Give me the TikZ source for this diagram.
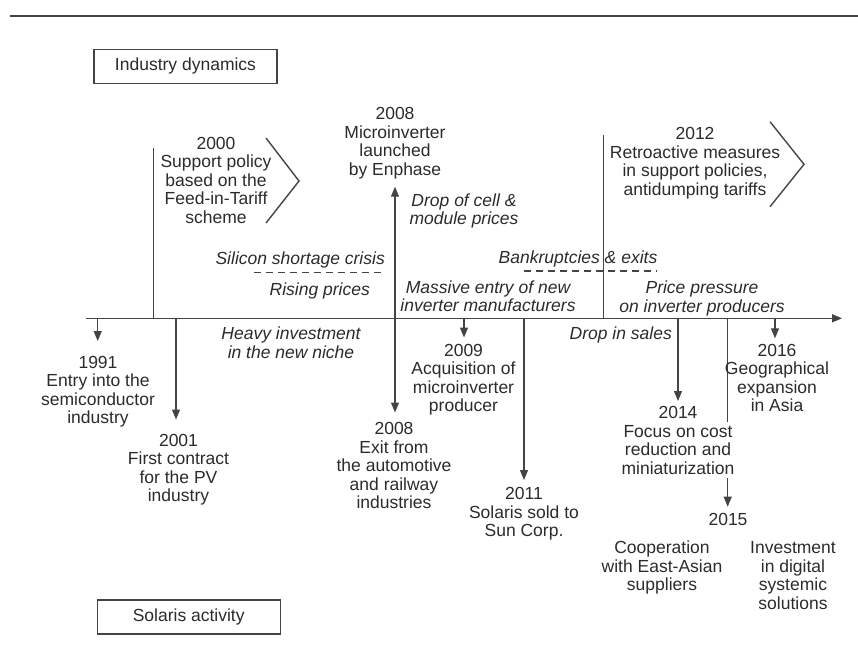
\documentclass[tikz,border=0pt]{standalone}
\usepackage{fontspec}
\setmainfont{Liberation Sans}
\usetikzlibrary{arrows.meta}
\definecolor{txt}{HTML}{2B2B2B}
\definecolor{ln}{HTML}{444444}
\begin{document}
\begin{tikzpicture}[x=1pt,y=-1pt,
  every node/.style={font=\fontsize{17.5}{18.6}\selectfont, text=txt, inner sep=0pt},
  lbl/.style={align=center, anchor=base},
  itl/.style={align=center, anchor=base, font=\fontsize{17.5}{18.6}\selectfont\itshape},
  vline/.style={draw=ln, line width=1.2pt},
  arr/.style={vline, -{Triangle[width=8pt,length=10pt]}},
  boxlbl/.style={draw=ln, line width=1.2pt, minimum width=183pt, minimum height=34pt, anchor=center},
  dashline/.style={draw=ln, line width=1.2pt, dash pattern=on 7pt off 5pt}]
\useasboundingbox (0,0) rectangle (858,651);

% top rule
\coordinate (ruleL) at (10,15.5);
\coordinate (ruleR) at (858,15.5);
\draw[draw=ln, line width=2pt] (ruleL) -- (ruleR);

% boxes
\node[boxlbl] (ind) at (185.5,66.3) {Industry dynamics};
\node[boxlbl] (sol) at (188.7,617) {Solaris activity};

% axis
\coordinate (axL) at (86,318.3);
\coordinate (axR) at (842,318.3);
\draw[arr, line width=1.5pt] (axL) -- (axR);

% axis points
\coordinate (a91) at (97.7,318.3);
\coordinate (a00) at (153.3,318.3);
\coordinate (a01) at (176,318.3);
\coordinate (a08) at (395,318.3);
\coordinate (a09) at (464,318.3);
\coordinate (a11) at (524,318.3);
\coordinate (a12) at (603.3,318.3);
\coordinate (a14) at (678,318.3);
\coordinate (a15) at (727.7,318.3);
\coordinate (a16) at (775,318.3);

% tips
\coordinate (t91) at (97.7,341);
\coordinate (t00) at (153.3,147.7);
\coordinate (t01) at (176,419.5);
\coordinate (t08u) at (395,186.7);
\coordinate (t08d) at (395,412.5);
\coordinate (t09) at (464,337.5);
\coordinate (t11) at (524,480);
\coordinate (t12) at (603.3,135);
\coordinate (t14) at (678,401);
\coordinate (t15) at (727.7,506.7);
\coordinate (t16) at (775,338.3);

\draw[vline] (a00) -- (t00);
\draw[vline] (a12) -- (t12);
\draw[arr] (a91) -- (t91);
\draw[arr] (a01) -- (t01);
\draw[arr] (a08) -- (t08u);
\draw[arr] (a08) -- (t08d);
\draw[arr] (a09) -- (t09);
\draw[arr] (a11) -- (t11);
\draw[arr] (a14) -- (t14);
\draw[arr] (a15) -- (t15);
\draw[arr] (a16) -- (t16);

% chevrons
\draw[draw=ln, line width=1.4pt] (266,138) -- (299,181) -- (266,223);
\draw[draw=ln, line width=1.4pt] (770,121.7) -- (804,164.3) -- (770,206.7);

% dashed separators
\coordinate (d1L) at (254,272.7);
\coordinate (d1R) at (385,272.7);
\coordinate (d2L) at (524.3,271);
\coordinate (d2R) at (657,271);
\draw[dashline] (d1L) -- (d1R);
\draw[dashline] (d2L) -- (d2R);

% industry dynamics texts (anchor = baseline of last line)
\node[lbl] (e00) at (216,223.4) {2000\\Support policy\\based on the\\Feed-in-Tariff\\scheme};
\node[lbl] (e08u) at (395,175.3) {2008\\Microinverter\\launched\\by Enphase};
\node[lbl] (e12) at (695,195.3) {2012\\Retroactive measures\\in support policies,\\antidumping tariffs};
\node[itl] (drop) at (464,224.6) {Drop of cell \&\\module prices};
\node[itl, anchor=base east] (sil) at (385,264.5) {Silicon shortage crisis};
\node[itl, anchor=base east] (rise) at (370,295.5) {Rising prices};
\node[itl] (mass) at (488,311.6) {Massive entry of new\\inverter manufacturers};
\node[itl] (bank) at (578,263) {Bankruptcies \& exits};
\node[itl] (press) at (702,312.1) {Price pressure\\on inverter producers};

% solaris texts
\node[itl] (heavy) at (291,358.1) {Heavy investment\\in the new niche};
\node[itl, anchor=base east] (dsales) at (672,339.5) {Drop in sales};
\node[lbl] (e91) at (98,423.8) {1991\\Entry into the\\semiconductor\\industry};
\node[lbl] (e01) at (178.5,501.8) {2001\\First contract\\for the PV\\industry};
\node[lbl] (e08d) at (394,508.9) {2008\\Exit from\\the automotive\\and railway\\industries};
\node[lbl] (e09) at (463.5,411.8) {2009\\Acquisition of\\microinverter\\producer};
\node[lbl] (e11) at (524,536.7) {2011\\Solaris sold to\\Sun Corp.};
\node[lbl] (e14) at (678,418.5) {2014};
\node[lbl, fill=white, inner sep=3pt] (e14b) at (678,474.5) {Focus on cost\\reduction and\\miniaturization};
\node[lbl] (e15) at (728,525) {2015};
\node[lbl] (coop) at (662,590.7) {Cooperation\\with East-Asian\\suppliers};
\node[lbl] (inv) at (793,609.3) {Investment\\in digital\\systemic\\solutions};
\node[lbl] (e16) at (777,411.8) {2016\\Geographical\\expansion\\in Asia};
\end{tikzpicture}
\end{document}
